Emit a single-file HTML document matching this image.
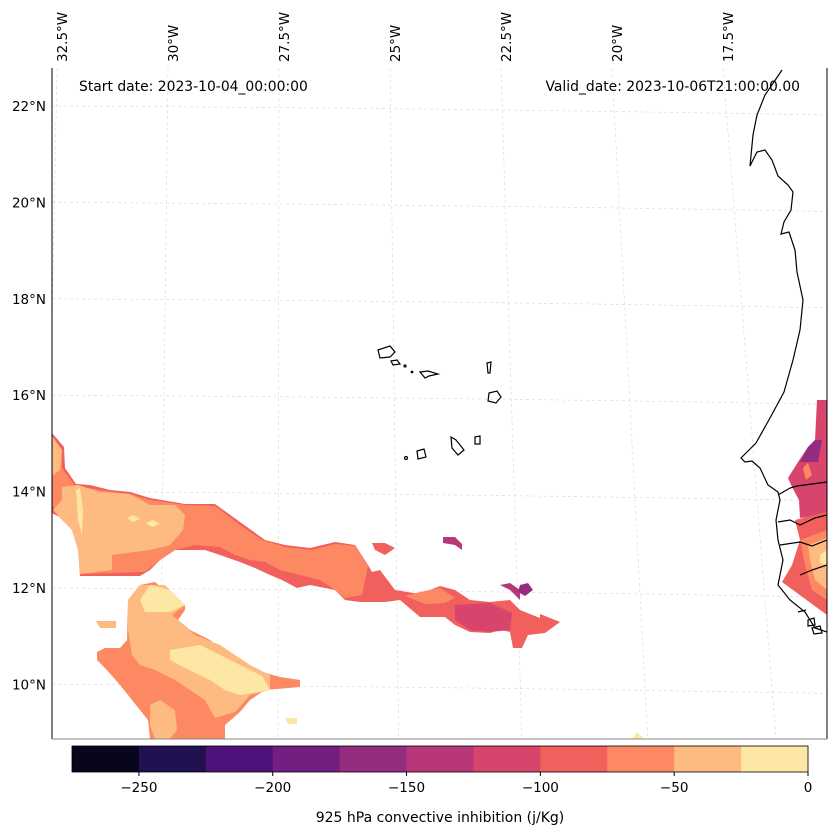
<!DOCTYPE html>
<html><head><meta charset="utf-8"><style>
body{margin:0;background:#fff;font-family:"DejaVu Sans","Liberation Sans",sans-serif}
svg text{font-family:"DejaVu Sans","Liberation Sans",sans-serif}
</style></head><body>
<svg id="chart" width="837" height="836" xmlns="http://www.w3.org/2000/svg">
<defs><clipPath id="mapclip"><rect x="52" y="68" width="775" height="671"/></clipPath></defs>
<g id="grid" stroke="#d6d6d6" stroke-width="0.6" stroke-dasharray="3,3" fill="none" clip-path="url(#mapclip)"></g>
<g id="fills" clip-path="url(#mapclip)"></g>
<g id="coast" fill="none" stroke="#000" stroke-width="1.2" clip-path="url(#mapclip)">
<path d="M782,70 L778,76 L765,95 L757,115 L753,135 L750,166 L757,152 L765,150 L772,160 L778,176 L788,185 L793,192 L791,210 L784,222 L781,234 L789,232 L795,250 L797,272 L803,300 L800,330 L793,360 L784,392 L770,418 L756,443 L741,458 L745,462 L752,461 L760,468 L768,485 L778,492 L780,500 L776,520 L778,540 L783,560 L778,585 L790,600 L805,612 L815,628 L827,632"/>
<path d="M778,495 L790,488 L797,486 L827,482"/>
<path d="M778,522 L790,520 L800,525 L815,518 L827,515"/>
<path d="M780,545 L800,542 L812,546 L827,540"/>
<path d="M800,575 L812,570 L827,565"/>
<path d="M378,350 L390,346 L395,352 L390,357 L380,358 Z"/>
<path d="M391,361 L397,360 L400,364 L393,365 Z"/>
<path d="M420,372 L428,371 L438,374 L429,376 L425,378 Z"/>
<path d="M487,363 L491,362 L490,373 L488,373 Z"/>
<path d="M489,393 L497,391 L501,397 L496,403 L488,401 Z"/>
<path d="M451,437 L456,440 L464,450 L458,455 L452,448 Z"/>
<path d="M475,437 L480,436 L480,444 L475,444 Z"/>
<path d="M417,451 L424,449 L426,457 L418,459 Z"/>
<circle cx="406" cy="458" r="1.5"/>
<circle cx="405" cy="366" r="1"/>
<circle cx="412" cy="372" r="0.8"/>
<path d="M798,612 L806,610 M808,620 L814,618 L815,625 L808,626 Z M812,628 L820,626 L822,633 L814,634 Z"/>
</g>
<g stroke="#000" stroke-width="1">
<line x1="52" y1="68" x2="52" y2="739"/>
<line x1="827" y1="68" x2="827" y2="739"/>
<line x1="52" y1="739" x2="827" y2="739" stroke="#888"/>
</g>
<g id="latlabels" font-size="13.5" fill="#000" text-anchor="end"></g>
<g id="lonlabels" font-size="13.5" fill="#000"></g>
<text x="79" y="91" font-size="13.9">Start date: 2023-10-04_00:00:00</text>
<text x="800" y="91" font-size="13.9" text-anchor="end">Valid_date: 2023-10-06T21:00:00.00</text>
<g id="cbar"></g>
<text x="440" y="822" font-size="14" text-anchor="middle">925 hPa convective inhibition (j/Kg)</text>
</svg>
<script>
const cbLevels=[-275,-250,-225,-200,-175,-150,-125,-100,-75,-50,-25,0];
const cbColors=["#07061c","#221150","#4f127b","#721f81","#942c80","#b73779","#d8456c","#f1605d","#fc8961","#febb81","#fde7a5"];
const cbTicks=[-250,-200,-150,-100,-50,0];
const latTicks=[22,20,18,16,14,12,10];
const lonTicks=[32.5,30,27.5,25,22.5,20,17.5];
const NS="http://www.w3.org/2000/svg";
function mk(t,a,p){const e=document.createElementNS(NS,t);for(const k in a)e.setAttribute(k,a[k]);p.appendChild(e);return e;}
const cbX0=72,cbX1=808;
function cbx(v){return cbX0+(v-cbLevels[0])/(cbLevels[cbLevels.length-1]-cbLevels[0])*(cbX1-cbX0);}
const cb=document.getElementById('cbar');
for(let i=0;i<cbColors.length;i++){
 const r=mk('rect',{x:cbx(cbLevels[i]),y:746,width:cbx(cbLevels[i+1])-cbx(cbLevels[i])+0.5,height:26,fill:cbColors[i]},cb);
 
 
}
mk('rect',{x:cbX0,y:746,width:cbX1-cbX0,height:26,fill:'none',stroke:'#000','stroke-width':0.8},cb);
cbTicks.forEach(v=>{
 mk('line',{x1:cbx(v),x2:cbx(v),y1:772,y2:776,stroke:'#000'},cb);
 const t=mk('text',{x:cbx(v),y:792,'font-size':13.5,'text-anchor':'middle'},cb);
 
 
 t.textContent=(v<0?'\u2212'+(-v):v);
});
function laty(l){return 106+(22-l)*48.2;}
function lonTop(w){return 57+(32.5-w)*44.4;}
function lonBot(w){return 44+(32.5-w)*45.8+(32.5-w)*(32.5-w)*0.2;}
const g=document.getElementById('grid');
latTicks.forEach(l=>{
 const y=laty(l);
 const p=mk('path',{d:`M52,${y} Q440,${y+2} 827,${y+9}`},g);
 
 
 const t=mk('text',{x:46,y:y+5},document.getElementById('latlabels'));
 
 
 t.textContent=l+'°N';
});
lonTicks.forEach(w=>{
 const x=lonTop(w);
 const p=mk('line',{x1:x,y1:68,x2:lonBot(w),y2:739},g);
 
 
 const tx=x+10;
 const t=mk('text',{x:tx,y:62,transform:`rotate(-90 ${tx} 62)`},document.getElementById('lonlabels'));
 
 
 t.textContent=w+'°W';
});
const regions=[
[7,"52,433 64,447 65,468 76,484 90,485 110,490 130,492 150,498 185,504 215,504 240,522 265,540 285,545 310,548 335,542 355,545 368,565 372,572 380,570 395,590 420,594 440,586 455,590 470,600 490,602 510,600 520,610 540,618 540,614 560,622 545,633 528,635 522,648 513,648 510,632 500,630 490,633 470,632 455,625 445,617 420,617 400,600 385,602 360,602 345,600 335,590 310,585 297,588 282,580 270,575 255,568 240,562 220,555 205,550 175,550 160,560 150,570 140,576 80,576 78,548 72,530 65,520 52,513"],
[7,"372,543 385,543 395,548 385,555 375,550"],
[8,"52,436 62,450 62,468 75,486 100,490 130,494 150,500 185,505 215,506 240,525 262,540 285,547 312,550 335,544 355,546 368,566 362,595 345,598 335,590 320,580 300,575 280,570 265,562 250,560 235,555 220,547 195,545 175,550 160,560 145,572 80,574 78,548 72,530 52,505"],
[9,"62,487 78,485 100,492 130,494 150,505 175,505 185,515 183,530 170,545 150,550 112,555 112,570 80,574 78,550 72,530 62,520 53,510 62,500"],
[9,"52,436 62,450 60,470 52,476"],
[10,"76,490 80,488 83,510 82,535 78,520"],
[10,"127,518 133,515 140,519 133,522"],
[10,"146,523 153,520 160,524 152,527"],
[8,"405,596 420,592 440,588 455,598 445,603 425,604"],
[6,"455,605 490,603 512,613 510,630 490,632 470,630 455,620"],
[5,"443,537 455,537 462,544 462,550 455,545 443,543"],
[5,"500,585 510,583 520,590 520,600 510,590"],
[4,"520,585 528,583 533,590 525,596 518,592"],
[8,"97,652 105,648 120,648 127,640 128,600 140,585 155,582 165,590 185,605 185,610 178,620 190,630 210,640 235,660 255,670 280,677 300,680 300,687 265,690 250,700 240,712 225,725 225,739 150,739 148,720 120,685 105,668 97,660"],
[9,"128,600 140,585 165,585 185,605 172,615 195,635 220,645 250,665 270,675 270,690 250,695 235,712 215,718 205,700 190,690 175,680 155,670 140,665 132,655 128,630"],
[9,"150,705 160,700 175,710 177,730 170,739 155,739 150,725"],
[9,"96,621 116,621 116,628 100,628"],
[10,"140,600 150,585 170,590 185,605 170,612 158,612 145,612"],
[10,"170,650 200,645 230,660 262,676 270,690 240,695 225,690 210,680 185,668 170,660"],
[10,"285,718 297,718 297,724 288,724"],
[10,"632,739 637,732 644,739"],
[6,"817,400 827,400 827,515 800,518 799,500 792,487 788,478 798,462 808,447 815,440"],
[4,"808,447 815,440 822,440 818,462 810,462 800,462"],
[8,"803,468 808,463 812,475 806,480"],
[7,"795,520 827,512 827,615 782,582 792,565 800,540"],
[8,"800,540 827,530 827,600 812,590 805,565"],
[9,"808,545 827,538 827,590 815,580 810,560"],
[10,"820,555 827,550 827,565 820,563"]
];
const f=document.getElementById('fills');
regions.forEach(r=>{
 const p=mk('polygon',{points:r[1],fill:cbColors[r[0]]},f);
 
 
});
</script>
</body></html>
